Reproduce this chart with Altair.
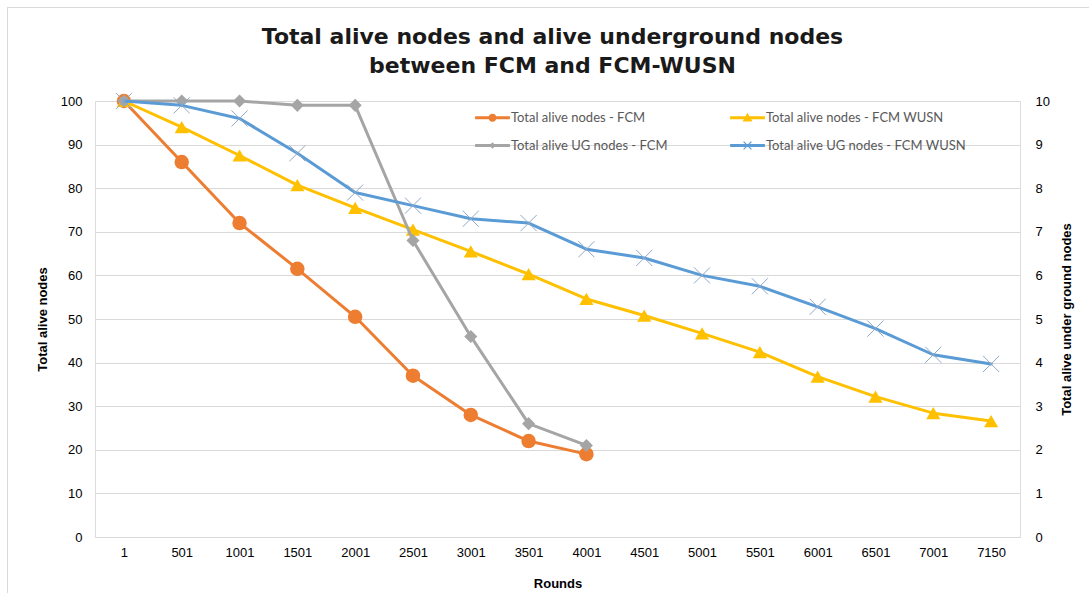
import altair as alt
import pandas as pd

# Round checkpoints on the category axis
rounds = ["1", "501", "1001", "1501", "2001", "2501", "3001", "3501", "4001",
          "4501", "5001", "5501", "6001", "6501", "7001", "7150"]

# Series in legend order (the legend fills column by column)
series_names = [
    "Total alive nodes - FCM",
    "Total alive UG nodes - FCM",
    "Total alive nodes - FCM WUSN",
    "Total alive UG nodes - FCM WUSN",
]

# Left axis (all nodes)
total_fcm = [100, 86, 72, 61.5, 50.5, 37, 28, 22, 19]
total_wusn = [100, 94, 87.5, 80.7, 75.5, 70.5, 65.5, 60.3, 54.6, 50.8, 46.7,
              42.4, 36.8, 32.2, 28.4, 26.6]
# Right axis (underground nodes)
ug_fcm = [10, 10, 10, 9.9, 9.9, 6.8, 4.6, 2.6, 2.1]
ug_wusn = [10, 9.9, 9.6, 8.8, 7.9, 7.6, 7.3, 7.2, 6.6, 6.4, 6.0, 5.75, 5.28,
           4.78, 4.18, 3.97]

ORANGE, GRAY, YELLOW, BLUE = "#ED7D31", "#A5A5A5", "#FFC000", "#5B9BD5"
colors = [ORANGE, GRAY, YELLOW, BLUE]

# Legend glyphs: a short line with the series marker in its middle
LINE = "M-1.2,-0.1H1.2V0.1H-1.2Z"
legend_paths = [
    LINE + " M-0.28,0A0.28,0.28,0,1,1,0.28,0A0.28,0.28,0,1,1,-0.28,0Z",
    LINE + " M0,-0.22L0.22,0L0,0.22L-0.22,0Z",
    LINE + " M-0.34,0.26L0,-0.34L0.34,0.26Z",
    LINE + " M-0.3,-0.24L-0.24,-0.3L0.3,0.24L0.24,0.3Z"
           " M0.24,-0.3L0.3,-0.24L-0.24,0.3L-0.3,0.24Z",
]

rows = []
for name, vals in zip(series_names, [total_fcm, ug_fcm, total_wusn, ug_wusn]):
    for r, v in zip(rounds, vals):
        rows.append({"round": r, "series": name, "value": v})
df = pd.DataFrame(rows)

FONT = "Lato"
LABEL_COLOR = "#595959"
GRID = "#D9D9D9"

W, H = 925, 436
PAD = {"left": 95, "top": 101, "right": 69, "bottom": 56}

x_enc = alt.X(
    "round:O",
    scale=alt.Scale(type="point", padding=0.5, domain=rounds),
    axis=alt.Axis(title="Rounds", labelAngle=0, ticks=False, domain=False,
                  labelPadding=9, titlePadding=18, labelFontSize=13,
                  titleFontSize=13),
)

y_left = alt.Y(
    "value:Q",
    scale=alt.Scale(domain=[0, 100]),
    axis=alt.Axis(title="Total alive nodes", values=list(range(0, 101, 10)),
                  grid=True, gridColor=GRID, domain=False, ticks=False,
                  labelPadding=13, titlePadding=11, labelFontSize=13,
                  titleFontSize=13),
)

y_right = alt.Y(
    "value:Q",
    scale=alt.Scale(domain=[0, 10]),
    axis=alt.Axis(title="Total alive under ground nodes", orient="right",
                  values=list(range(0, 11)), grid=False, domain=False,
                  ticks=False, labelPadding=15, titlePadding=24,
                  titleAngle=270, labelFontSize=13, titleFontSize=13),
)


def series_layers(name, color, y_enc, shape, size, filled=True,
                  marker_color=None, marker_width=None):
    base = alt.Chart(df).transform_filter(alt.datum.series == name)
    line = base.mark_line(color=color, strokeWidth=3, strokeJoin="round",
                          strokeCap="round").encode(x=x_enc, y=y_enc)
    point_kwargs = dict(shape=shape, size=size, filled=filled,
                        color=marker_color or color, opacity=1)
    if marker_width is not None:
        point_kwargs["strokeWidth"] = marker_width
    pts = base.mark_point(**point_kwargs).encode(x=x_enc, y=y_enc)
    return [line, pts]


legend = alt.Legend(
    title=None, orient="none", legendX=383, legendY=2, columns=2,
    symbolSize=841, symbolStrokeWidth=0, symbolOpacity=1,
    labelFont=FONT, labelFontSize=13, labelColor=LABEL_COLOR, labelLimit=400,
    labelOffset=4, columnPadding=62, rowPadding=6,
)

legend_layer = alt.Chart(df).transform_filter(
    alt.datum.round == "1"
).mark_point(filled=True, opacity=0).encode(
    x=x_enc,
    y=y_left,
    color=alt.Color("series:N", scale=alt.Scale(domain=series_names, range=colors),
                    legend=legend),
    shape=alt.Shape("series:N", scale=alt.Scale(domain=series_names,
                                                range=legend_paths),
                    legend=legend),
)

# Thin frame around the whole chart area
frame = alt.Chart(df).transform_filter(
    alt.datum.round == "1"
).mark_rect(fill="transparent", stroke="#D9D9D9", strokeWidth=1,
            clip=False).encode(
    x=alt.value(-PAD["left"] + 7.5),
    x2=alt.value(W + PAD["right"] + 20),
    y=alt.value(-PAD["top"] + 7.5),
    y2=alt.value(H + PAD["bottom"] + 20),
)

left = alt.layer(
    frame,
    *series_layers("Total alive nodes - FCM", ORANGE, y_left, "circle", 210),
    *series_layers("Total alive nodes - FCM WUSN", YELLOW, y_left,
                   "triangle-up", 200),
    legend_layer,
)

right = alt.layer(
    *series_layers("Total alive UG nodes - FCM", GRAY, y_right, "diamond", 170),
    *series_layers("Total alive UG nodes - FCM WUSN", BLUE, y_right,
                   "M-1,-1L1,1M-1,1L1,-1", 260, filled=False,
                   marker_color="#8FA9C8", marker_width=1),
)

chart = alt.layer(left, right).resolve_scale(
    y="independent"
).properties(
    width=W,
    height=H,
    padding=PAD,
    autosize=alt.AutoSizeParams(type="none"),
    title=alt.TitleParams(
        text=["Total alive nodes and alive underground nodes",
              "between FCM and  FCM-WUSN"],
        font="DejaVu Sans", fontSize=22, fontWeight="bold", color="#1a1a1a",
        anchor="middle", lineHeight=29, offset=-71, dx=-5,
    ),
).configure_view(
    stroke=None
).configure_axis(
    labelFont=FONT, titleFont=FONT, labelColor=LABEL_COLOR,
    titleColor=LABEL_COLOR, titleFontWeight="bold",
).configure(background="white")

chart.save("out.html", embed_options={"renderer": "svg", "actions": False})
